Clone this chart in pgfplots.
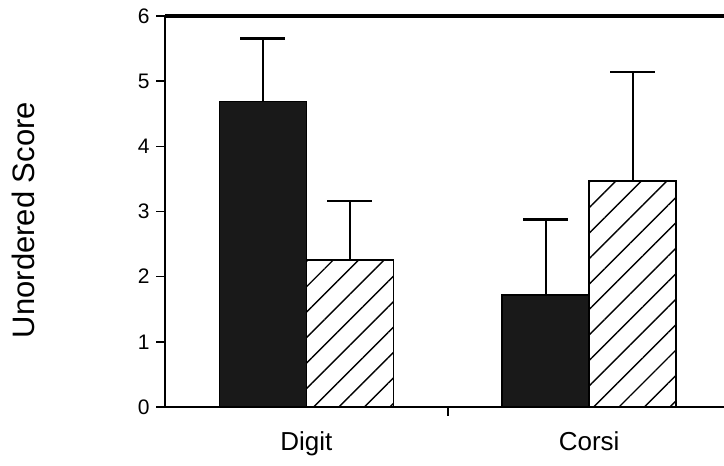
\documentclass[border=0pt]{standalone}
\usepackage{pgfplots}
\pgfplotsset{compat=1.18}
\usepackage{fontspec}
\setmainfont{Liberation Sans}
\usetikzlibrary{patterns.meta}
\begin{document}
\begin{tikzpicture}
\begin{axis}[
  scale only axis, width=559bp, height=391bp,
  xmin=-0.5, xmax=1.477, ymin=0, ymax=6,
  axis x line=box, axis y line=left,
  axis line style={-, line width=1.8bp},
  /pgf/number format/assume math mode=true,
  ytick={0,1,2,3,4,5,6}, ytick pos=left,
  tick align=outside, major tick length=9bp,
  tick style={line width=1.5bp, black},
  yticklabel style={font=\fontsize{21bp}{21bp}\selectfont, xshift=-3bp},
  xtick={0.5}, xticklabels={}, xtick pos=bottom,
  extra x ticks={0,1}, extra x tick labels={Digit,Corsi},
  extra x tick style={major tick length=0pt, xticklabel style={font=\fontsize{26bp}{26bp}\selectfont, yshift=-21bp}},
  ylabel={Unordered Score},
  every axis y label/.style={at={(rel axis cs:-0.254,0.478)}, rotate=90, anchor=center, font=\fontsize{31bp}{31bp}\selectfont},
  ybar=0pt, bar width=87bp,
  clip=false,
]
\addplot[ybar, fill=black!90, draw=black, line width=1.6bp,
  error bars/.cd, y dir=plus, y explicit,
  error bar style={line width=1.8bp, black},
  error mark options={rotate=90, mark size=22.5bp, line width=2.8bp, black}]
  coordinates {(0,4.69) +- (0,0.97) (1,1.72) +- (0,1.16)};
\addplot[ybar, draw=black, line width=1.6bp, pattern={Lines[angle=45,distance=18bp,line width=1.4bp]}, pattern color=black,
  error bars/.cd, y dir=plus, y explicit,
  error bar style={line width=1.8bp, black},
  error mark options={rotate=90, mark size=22.5bp, line width=2.8bp, black}]
  coordinates {(0,2.26) +- (0,0.90) (1,3.47) +- (0,1.67)};
\draw[line width=3.5bp] (rel axis cs:0,1) -- (rel axis cs:1,1);
\coordinate (bbll) at (rel axis cs:-0.2952,-0.1509);
\coordinate (bbur) at (rel axis cs:1,1.0409);
\end{axis}
\pgfresetboundingbox
\path[use as bounding box] (bbll) rectangle (bbur);
\end{tikzpicture}
\end{document}
